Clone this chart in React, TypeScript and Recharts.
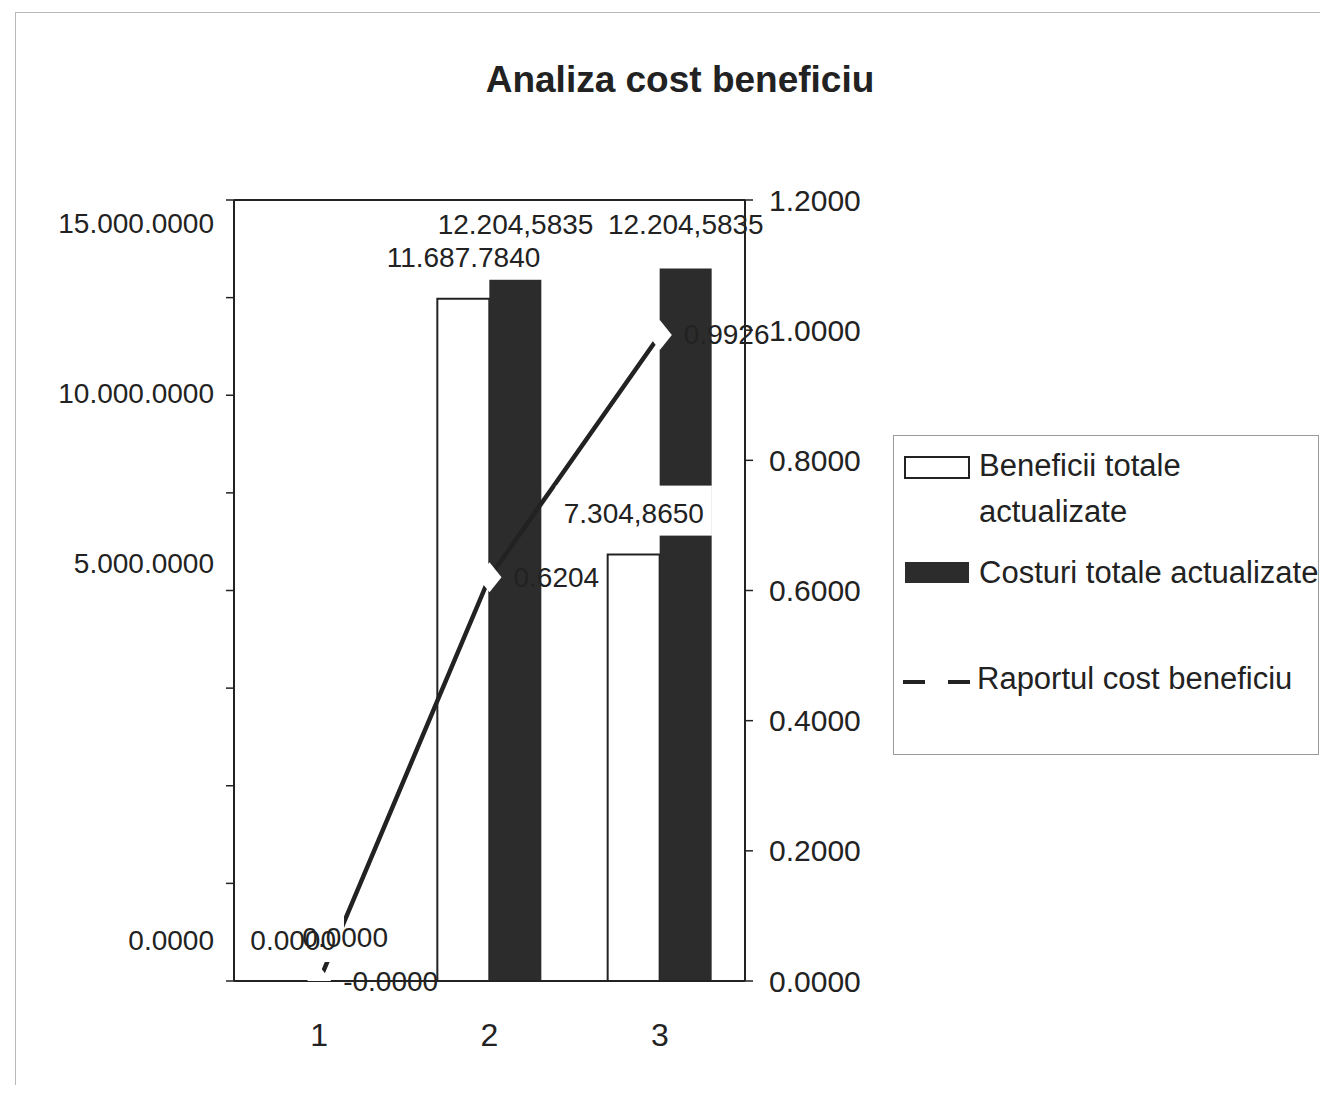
import React from "react";
import {
  ComposedChart,
  Bar,
  Line,
  XAxis,
  YAxis,
  LabelList,
  ReferenceLine,
  Legend,
} from "recharts";

// ---------- data ----------
const categories = ["1", "2", "3"];
const beneficii = [0, 11687.784, 7304.865];
const costuri = [0, 12204.5835, 12204.5835];
const raport = [0, 0.6204, 0.9926];
const beneficiiLabels = ["0.0000", "11.687.7840", "7.304,8650"];
const costuriLabels = ["0.0000", "12.204,5835", "12.204,5835"];
const raportLabels = ["-0.0000", "0.6204", "0.9926"];
const leftTicks = [0, 1672.5, 3345, 5017.5, 6690, 8362.5, 10035, 11707.5, 13380];
const leftTickLabels = ["0.0000", "", "", "", "5.000.0000", "", "10.000.0000", "", "15.000.0000"];
const rightTicks = [0, 0.2, 0.4, 0.6, 0.8, 1.0, 1.2];
const seriesNames = [
  "Beneficii totale actualizate",
  "Costuri totale actualizate",
  "Raportul cost beneficiu",
];
const chartTitle = "Analiza cost beneficiu";

const data = categories.map((c, i) => ({
  cat: c,
  beneficii: beneficii[i],
  costuri: costuri[i],
  raport: raport[i],
}));

// ---------- styles ----------
const FONT = '"Liberation Sans", Arial, Helvetica, sans-serif';
const INK = "#222222";
const DARK = "#2c2c2c";
const BAR_SIZE = 52;
const LABEL_FS = 28;
const LEG_W = 426;
const LEG_H = 320;
// vertical nudges of the left tick labels, as printed in the scan
const leftTickDy: Record<number, number> = { 0: -41, 4: -27, 6: -2, 8: 23 };

const textWidth = (s: string, fs: number) =>
  s.split("").reduce((w, ch) => w + (ch === "." || ch === "," ? 0.278 : ch === "-" ? 0.333 : 0.556) * fs, 0);

const LeftTick = (props: any) => {
  const { x, y, index } = props;
  const label = leftTickLabels[index] || "";
  if (!label) return <g />;
  return (
    <text
      x={x}
      y={y + (leftTickDy[index] || 0)}
      textAnchor="end"
      dominantBaseline="central"
      fontSize={28}
      fontFamily={FONT}
      fill={INK}
    >
      {label}
    </text>
  );
};

const BeneficiiLabel = (props: any) => {
  const { x, y, index } = props;
  const text = beneficiiLabels[index];
  const cx = x - BAR_SIZE / 2;
  const cy = y - 41;
  const w = textWidth(text, LABEL_FS);
  return (
    <g>
      <rect x={cx - w / 2 - 8} y={cy - 28} width={w + 16} height={50} fill="#ffffff" />
      <text x={cx} y={cy} textAnchor="middle" dominantBaseline="central" fontSize={LABEL_FS} fontFamily={FONT} fill={INK}>
        {text}
      </text>
    </g>
  );
};

const CosturiLabel = (props: any) => {
  const { x, y, index } = props;
  const text = costuriLabels[index];
  const cx = x + BAR_SIZE / 2;
  const cy = y - 44;
  return (
    <text x={cx} y={cy} textAnchor="middle" dominantBaseline="central" fontSize={LABEL_FS} fontFamily={FONT} fill={INK}>
      {text}
    </text>
  );
};

const RaportLabel = (props: any) => {
  const { x, y, index } = props;
  return (
    <text x={x + 24} y={y} textAnchor="start" dominantBaseline="central" fontSize={LABEL_FS} fontFamily={FONT} fill={INK}>
      {raportLabels[index]}
    </text>
  );
};

const Diamond = (props: any) => {
  const { cx, cy, index } = props;
  if (cx == null || cy == null) return <g key={`d${index}`} />;
  return (
    <path
      key={`d${index}`}
      d={`M${cx},${cy - 15} L${cx + 12},${cy} L${cx},${cy + 15} L${cx - 12},${cy} Z`}
      fill="#ffffff"
    />
  );
};

const LegendBox = () => {
  const first = seriesNames[0];
  const cut = first.lastIndexOf(" ");
  const l1 = first.slice(0, cut);
  const l2 = first.slice(cut + 1);
  const t = { fontSize: 31, fontFamily: FONT, fill: INK, dominantBaseline: "central" as const };
  return (
    <svg width={LEG_W} height={LEG_H} style={{ display: "block", overflow: "visible" }}>
      <rect x={0.5} y={0.5} width={LEG_W - 1} height={LEG_H - 1} fill="#ffffff" stroke="#9a9a9a" strokeWidth={1} />
      <rect x={12} y={22} width={64} height={21} fill="#ffffff" stroke={INK} strokeWidth={2} />
      <text x={86} y={30} {...t}>{l1}</text>
      <text x={86} y={76} {...t}>{l2}</text>
      <rect x={12} y={127} width={64} height={21} fill={DARK} />
      <text x={86} y={137} {...t}>{seriesNames[1]}</text>
      <line x1={10} x2={79} y1={247} y2={247} stroke={INK} strokeWidth={4} strokeDasharray="22 23" />
      <text x={84} y={243} {...t}>{seriesNames[2]}</text>
    </svg>
  );
};

export default function App() {
  return (
    <div style={{ position: "relative", width: 1312, height: 1077, fontFamily: FONT, background: "#ffffff" }}>
      <div
        style={{
          position: "absolute",
          left: 7,
          top: 4,
          width: 1305,
          height: 1073,
          borderTop: "1px solid #b8b8b8",
          borderLeft: "1px solid #b8b8b8",
          pointerEvents: "none",
        }}
      />
      <div
        style={{
          position: "absolute",
          left: 372,
          top: 50,
          width: 600,
          textAlign: "center",
          fontSize: 37,
          lineHeight: "44px",
          fontWeight: "bold",
          color: INK,
          fontFamily: FONT,
        }}
      >
        {chartTitle}
      </div>
      <div style={{ position: "absolute", left: 0, top: 0 }}>
        <ComposedChart
          width={1312}
          height={1077}
          data={data}
          margin={{ top: 192, right: 445, bottom: 44, left: 26 }}
          barGap={0}
        >
          <XAxis
            dataKey="cat"
            interval={0}
            tickLine={false}
            tickSize={0}
            tickMargin={42}
            height={60}
            axisLine={{ stroke: INK, strokeWidth: 2 }}
            tick={{ fontSize: 32, fill: INK, fontFamily: FONT }}
          />
          <YAxis
            yAxisId="left"
            orientation="left"
            width={200}
            domain={[0, 13380]}
            ticks={leftTicks}
            interval={0}
            allowDataOverflow
            tickSize={8}
            tickMargin={12}
            axisLine={{ stroke: INK, strokeWidth: 2 }}
            tickLine={{ stroke: INK, strokeWidth: 1.5 }}
            tick={<LeftTick />}
          />
          <YAxis
            yAxisId="right"
            orientation="right"
            width={130}
            domain={[0, 1.2]}
            ticks={rightTicks}
            interval={0}
            allowDataOverflow
            tickSize={8}
            tickMargin={16}
            axisLine={{ stroke: INK, strokeWidth: 2 }}
            tickLine={{ stroke: INK, strokeWidth: 1.5 }}
            tickFormatter={(v: number) => v.toFixed(4)}
            tick={{ fontSize: 30, fill: INK, fontFamily: FONT }}
          />
          <ReferenceLine yAxisId="right" y={1.2} stroke={INK} strokeWidth={2} />
          <Bar
            yAxisId="left"
            dataKey="beneficii"
            name={seriesNames[0]}
            fill="#ffffff"
            stroke={INK}
            strokeWidth={2}
            barSize={BAR_SIZE}
            isAnimationActive={false}
          />
          <Bar
            yAxisId="left"
            dataKey="costuri"
            name={seriesNames[1]}
            fill={DARK}
            barSize={BAR_SIZE}
            isAnimationActive={false}
          />
          <Line
            yAxisId="left"
            dataKey="beneficii"
            stroke="none"
            dot={false}
            activeDot={false}
            legendType="none"
            isAnimationActive={false}
          >
            <LabelList dataKey="beneficii" content={<BeneficiiLabel />} />
          </Line>
          <Line
            yAxisId="left"
            dataKey="costuri"
            stroke="none"
            dot={false}
            activeDot={false}
            legendType="none"
            isAnimationActive={false}
          >
            <LabelList dataKey="costuri" content={<CosturiLabel />} />
          </Line>
          <Line
            yAxisId="right"
            dataKey="raport"
            name={seriesNames[2]}
            type="linear"
            stroke={INK}
            strokeWidth={4.5}
            dot={<Diamond />}
            activeDot={false}
            isAnimationActive={false}
          >
            <LabelList dataKey="raport" content={<RaportLabel />} />
          </Line>
          <Legend
            layout="horizontal"
            verticalAlign="middle"
            align="center"
            content={<LegendBox />}
            wrapperStyle={{ position: "absolute", left: 885, top: 427, width: LEG_W, height: LEG_H }}
          />
        </ComposedChart>
      </div>
    </div>
  );
}
